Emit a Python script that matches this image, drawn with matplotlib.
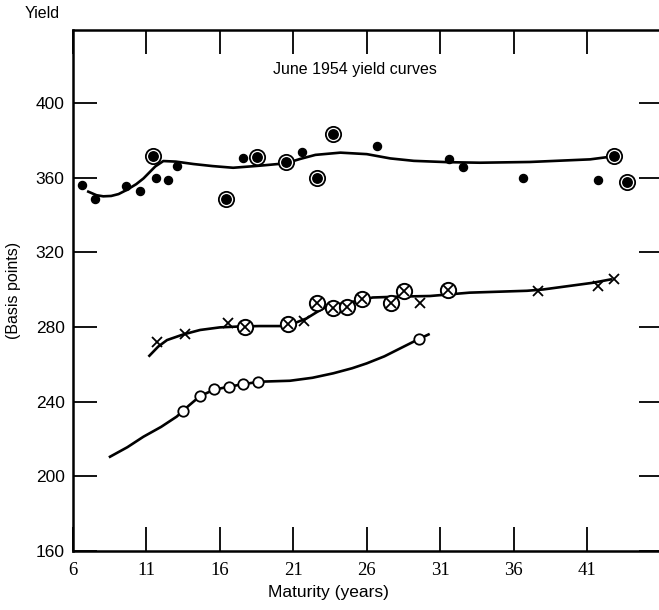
import matplotlib.pyplot as plt

# June 1954 yield curves
# top group: filled dots, some of them circled
top_x = [6.63, 7.48, 9.59, 10.56, 11.63, 12.49, 13.08, 17.55, 21.61, 26.69,
         31.6, 32.55, 36.65, 41.72]
top_y = [356, 348.5, 355.7, 353, 360, 358.7, 366, 370.5, 373.7, 377,
         370, 365.5, 360, 358.7]
top_ring_x = [11.42, 16.42, 18.53, 20.5, 22.59, 23.68, 42.8, 43.69]
top_ring_y = [371.6, 348.7, 371, 368.2, 359.6, 383.5, 371.6, 357.5]
top_curve_x = [7.04, 7.6, 8.06, 8.6, 9.1, 9.65, 10.3, 10.8, 11.2, 11.6, 12.15,
               13.0, 14.2, 15.5, 16.9, 18.7, 20.5, 21.45, 22.5, 24.2, 26.0,
               27.6, 29.2, 31.5, 33.7, 37.1, 41.2, 42.56]
top_curve_y = [352.5, 350.6, 350.0, 350.2, 351.2, 353.4, 356.5, 359.6, 362.8,
               366.0, 368.9, 368.6, 367.3, 366.2, 365.3, 366.4, 367.7, 370.0,
               372.2, 373.4, 372.6, 370.3, 369.0, 368.3, 368.0, 368.4, 369.8,
               371.2]

# middle group: crosses and circled crosses
mid_x = [11.7, 13.62, 16.57, 21.75, 29.6, 37.68, 41.72, 42.85]
mid_y = [272.1, 276.2, 282, 283.2, 292.6, 299.4, 301.9, 305.5]
mid_ring_x = [17.71, 20.66, 22.64, 23.72, 24.68, 25.7, 27.63, 28.53, 31.55]
mid_ring_y = [279.8, 281.4, 292.6, 290.4, 290.9, 295, 292.6, 299.4, 299.8]
mid_curve_x = [11.2, 11.8, 12.4, 13.5, 14.65, 16.0, 17.4, 18.7, 20.1, 21.0,
               21.9, 22.6, 23.3, 25.1, 26.4, 28.3, 30.3, 33.0, 36.9, 38.0,
               41.4, 42.6]
mid_curve_y = [264.6, 269.5, 273.0, 276.0, 278.4, 279.8, 280.3, 280.5, 280.5,
               281.8, 284.6, 288.0, 291.0, 293.6, 295.8, 296.3, 296.6, 298.4,
               299.4, 300.1, 303.7, 305.5]

# bottom group: open circles
bot_x = [13.47, 14.65, 15.62, 16.62, 17.6, 18.6, 29.55]
bot_y = [235, 243.2, 246.6, 248, 249.4, 250.3, 273.6]
bot_curve_x = [8.52, 9.7, 10.79, 12.0, 13.06, 13.9, 14.65, 15.6, 16.6, 17.6,
               18.73, 20.77, 22.3, 23.72, 25.0, 25.99, 27.2, 28.26, 29.3, 30.2]
bot_curve_y = [210.5, 215.6, 221.2, 226.5, 232, 238.0, 243.0, 246.4, 248.0,
               249.4, 250.7, 251.2, 252.8, 255.2, 257.9, 260.5, 264.3, 268.5,
               272.6, 276]

x_ticks = [6, 11, 16, 21, 26, 31, 36, 41]
y_ticks = [160, 200, 240, 280, 320, 360, 400]

fig = plt.figure(figsize=(6.59, 6.10), dpi=100)
ax = fig.add_axes([73/659, 59/610, 590/659, 521/610])

lw = 1.9
ax.plot(top_curve_x, top_curve_y, color='black', lw=lw, zorder=2)
ax.plot(mid_curve_x, mid_curve_y, color='black', lw=lw, zorder=2)
ax.plot(bot_curve_x, bot_curve_y, color='black', lw=lw, zorder=2)

# top dots
ax.plot(top_x, top_y, 'o', color='black', ms=5.8, zorder=3)
ax.plot(top_ring_x, top_ring_y, 'o', mfc='white', mec='black', mew=1.3,
        ms=11, zorder=3)
ax.plot(top_ring_x, top_ring_y, 'o', color='black', ms=6.8, zorder=4)

# crosses
ax.plot(mid_x, mid_y, 'x', color='black', ms=6.5, mew=1.3, zorder=3)
ax.plot(mid_ring_x, mid_ring_y, 'o', mfc='white', mec='black', mew=1.4,
        ms=11, zorder=3)
ax.plot(mid_ring_x, mid_ring_y, 'x', color='black', ms=7, mew=1.3, zorder=4)

# open circles
ax.plot(bot_x, bot_y, 'o', mfc='white', mec='black', mew=1.3, ms=7.5, zorder=3)

ax.set_xlim(6, 46.16)
ax.set_ylim(160, 439.1)
ax.set_xticks(x_ticks)
ax.set_yticks(y_ticks)
ax.set_xticklabels([str(v) for v in x_ticks], family='Liberation Serif',
                   fontsize=13.5)
ax.set_yticklabels([str(v) for v in y_ticks], family='Liberation Sans',
                   fontsize=12.5)
ax.tick_params(direction='in', length=17, width=1.3, top=True, right=True,
               pad=6)
ax.tick_params(axis='x', pad=8)
for s in ax.spines.values():
    s.set_linewidth(1.8)

ax.text(25.2, 418, 'June 1954 yield curves', ha='center', va='center',
        family='Liberation Sans', fontsize=11.5)
fig.text(42/659, 1 - 14/610, 'Yield', ha='center', va='center',
         family='Liberation Sans', fontsize=11.5)
fig.text(14/659, 1 - 290/610, '(Basis points)', rotation=90, ha='center',
         va='center', family='Liberation Sans', fontsize=11.5)
fig.text(328/659, 1 - 592/610, 'Maturity (years)', ha='center', va='center',
         family='Liberation Sans', fontsize=12.5)

fig.savefig('out.png', dpi=100)
